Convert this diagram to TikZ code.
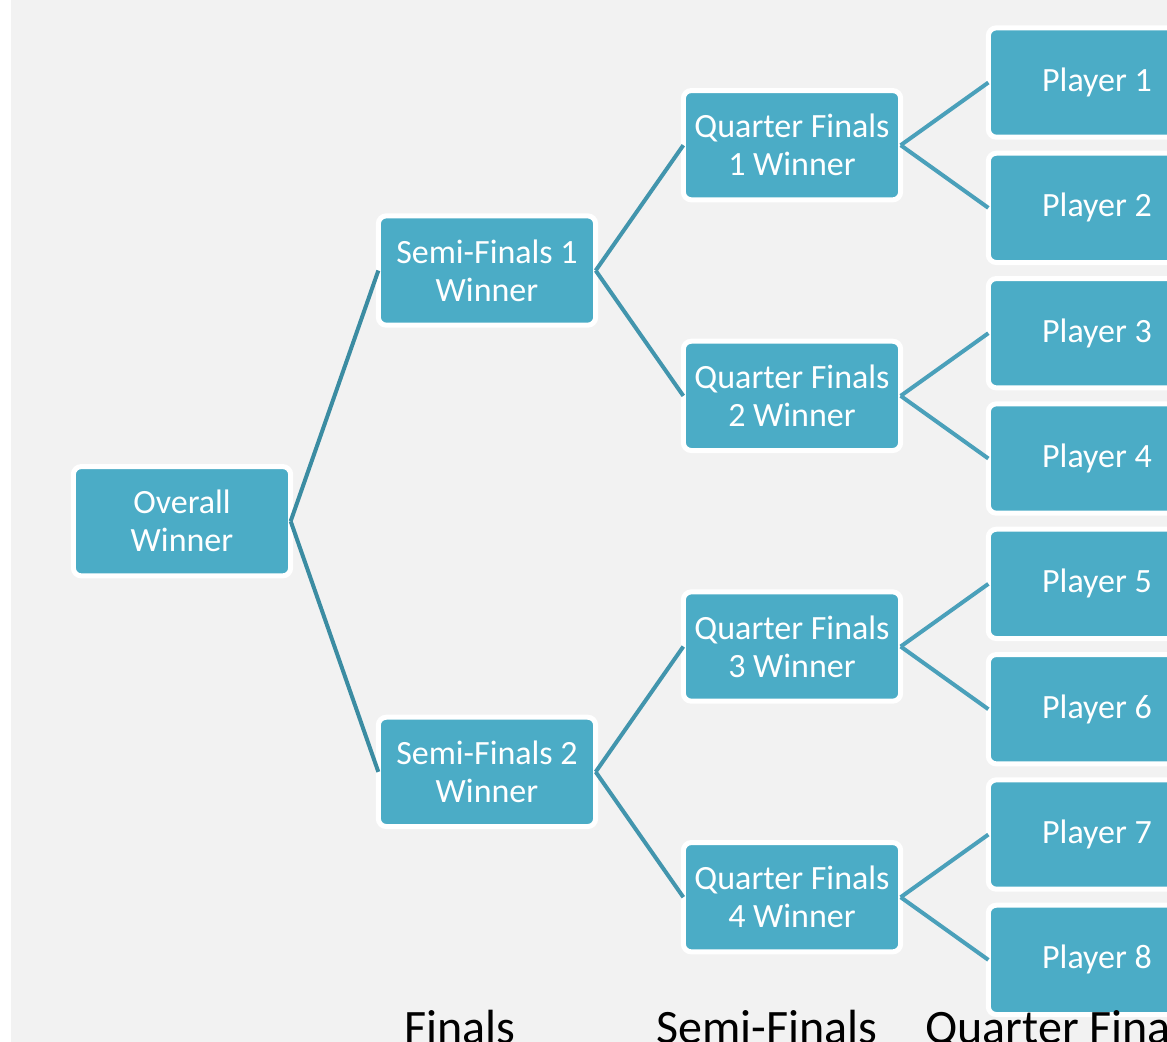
\documentclass[tikz,border=0pt]{standalone}
\usepackage{fontspec}
\setmainfont{Carlito}
\usetikzlibrary{positioning}
\definecolor{boxaqua}{HTML}{4BACC6}
\definecolor{pagegray}{HTML}{F2F2F2}
\definecolor{linkdark}{HTML}{3B8CA2}
\definecolor{linkmid}{HTML}{4295AD}
\definecolor{linklight}{HTML}{4AA0BA}

\begin{document}
\begin{tikzpicture}[
      node distance=12pt and 65.75pt,
      every node/.style={align=center, font=\fontsize{25.5}{28.5}\selectfont},
      match/.style={draw=white, line width=3.75pt, fill=boxaqua, text=white, rounded corners=6pt,
         minimum width=163pt, minimum height=82pt, inner sep=0pt, outer sep=0pt},
      link/.style={line width=3pt},
      stage/.style={anchor=base, font=\fontsize{36}{40}\selectfont}
   ]
      \useasboundingbox (0,0) rectangle (875.25pt,-781.5pt);
      \clip (0,0) rectangle (875.25pt,-781.5pt);
      \fill[pagegray] (8.25pt,0) rectangle (875.25pt,-781.5pt);
      % players
      \node[match] (p1) at (822.75pt,-61.9pt) {Player 1};
      \node[match] (p2) [below=of p1] {Player 2};
      \node[match] (p3) [below=of p2] {Player 3};
      \node[match] (p4) [below=of p3] {Player 4};
      \node[match] (p5) [below=of p4] {Player 5};
      \node[match] (p6) [below=of p5] {Player 6};
      \node[match] (p7) [below=of p6] {Player 7};
      \node[match] (p8) [below=of p7] {Player 8};
      % quarter finals
      \node[match] (qf1) [left=of p1, yshift=-47pt] {Quarter Finals\\1 Winner};
      \node[match] (qf2) [left=of p3, yshift=-47pt] {Quarter Finals\\2 Winner};
      \node[match] (qf3) [left=of p5, yshift=-47pt] {Quarter Finals\\3 Winner};
      \node[match] (qf4) [left=of p7, yshift=-47pt] {Quarter Finals\\4 Winner};
      % semi finals
      \node[match] (sf1) [left=of qf1, yshift=-94pt] {Semi-Finals 1\\Winner};
      \node[match] (sf2) [left=of qf3, yshift=-94pt] {Semi-Finals 2\\Winner};
      % final
      \node[match] (ow) [left=of sf1, yshift=-188pt] {Overall\\Winner};
      \draw[link, linkdark] (ow.east) -- (sf1.west);
      \draw[link, linkdark] (ow.east) -- (sf2.west);
      \draw[link, linkmid] (sf1.east) -- (qf1.west);
      \draw[link, linkmid] (sf1.east) -- (qf2.west);
      \draw[link, linkmid] (sf2.east) -- (qf3.west);
      \draw[link, linkmid] (sf2.east) -- (qf4.west);
      \draw[link, linklight] (qf1.east) -- (p1.west);
      \draw[link, linklight] (qf1.east) -- (p2.west);
      \draw[link, linklight] (qf2.east) -- (p3.west);
      \draw[link, linklight] (qf2.east) -- (p4.west);
      \draw[link, linklight] (qf3.east) -- (p5.west);
      \draw[link, linklight] (qf3.east) -- (p6.west);
      \draw[link, linklight] (qf4.east) -- (p7.west);
      \draw[link, linklight] (qf4.east) -- (p8.west);
      % round captions
      \node[stage] (finals) at (345pt,-782.25pt) {Finals};
      \node[stage] (semis) at (575.25pt,-782.25pt) {Semi-Finals};
      \node[stage] (quarters) at (797.25pt,-782.25pt) {Quarter Finals};
   \end{tikzpicture}
\end{document}
